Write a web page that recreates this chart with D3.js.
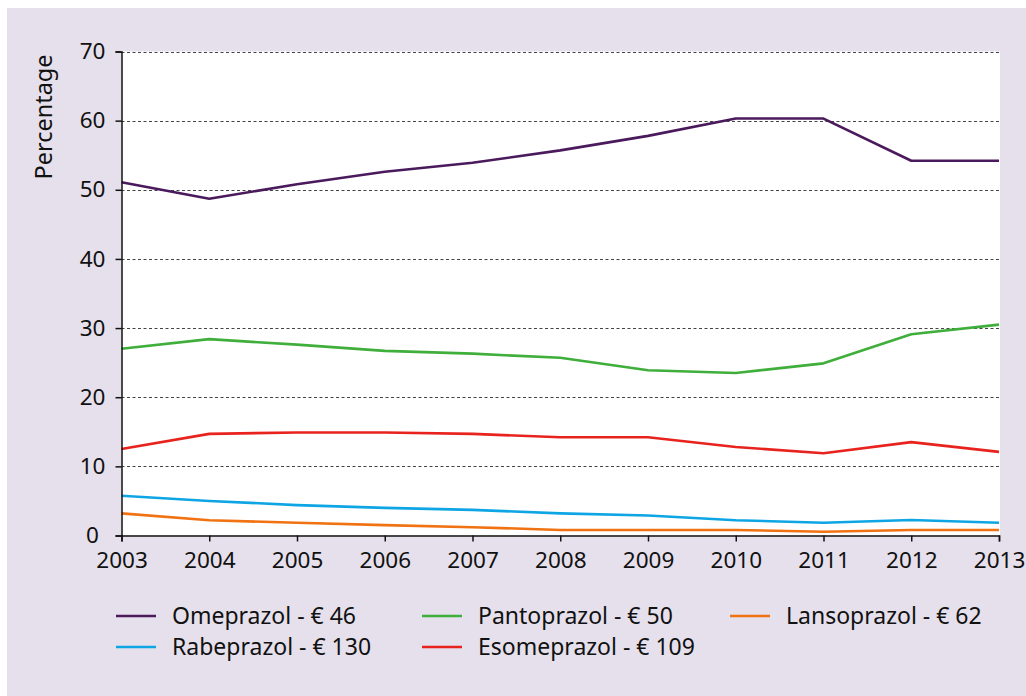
<!DOCTYPE html>
<html>
<head>
<meta charset="utf-8">
<script src="https://cdn.jsdelivr.net/npm/d3@7/dist/d3.min.js"></script>
<style>
  html, body { margin: 0; padding: 0; background: #ffffff; }
  svg { display: block; }
  text { font-family: "Noto Sans", "Open Sans", sans-serif; fill: #111; }
</style>
</head>
<body>
<svg id="chart" width="1026" height="696"></svg>
<script>
const years = [2003, 2004, 2005, 2006, 2007, 2008, 2009, 2010, 2011, 2012, 2013];
const yTicks = [0, 10, 20, 30, 40, 50, 60, 70];
const seriesNames = ["Omeprazol - € 46", "Pantoprazol - € 50", "Lansoprazol - € 62", "Rabeprazol - € 130", "Esomeprazol - € 109"];
const seriesColors = ["#4a1a5c", "#3fae3a", "#f07212", "#0ea5e4", "#e8231e"];
const omeprazol   = [51.1, 48.7, 50.8, 52.6, 53.9, 55.7, 57.8, 60.3, 60.3, 54.2, 54.2];
const pantoprazol = [27.0, 28.4, 27.6, 26.7, 26.3, 25.7, 23.9, 23.5, 24.9, 29.1, 30.5];
const lansoprazol = [3.2, 2.2, 1.85, 1.5, 1.2, 0.8, 0.8, 0.8, 0.55, 0.8, 0.8];
const rabeprazol  = [5.75, 5.0, 4.4, 4.0, 3.7, 3.2, 2.9, 2.2, 1.85, 2.25, 1.85];
const esomeprazol = [12.5, 14.7, 14.9, 14.9, 14.7, 14.2, 14.2, 12.8, 11.9, 13.5, 12.1];
const seriesValues = [omeprazol, pantoprazol, lansoprazol, rabeprazol, esomeprazol];

(function () {
const svg = d3.select("#chart");
// background panel
svg.append("rect").attr("x", 7).attr("y", 8).attr("width", 1019).attr("height", 688).attr("fill", "#e6e0ec");

const pLeft = 121.5, pRight = 999, pTop = 51.5, pBottom = 535.5;
const x = d3.scaleLinear().domain([2003, 2013]).range([pLeft, pRight]);
const y = d3.scaleLinear().domain([0, 70]).range([pBottom, pTop]);

// plot area
svg.append("rect").attr("x", pLeft).attr("y", pTop).attr("width", 1000 - pLeft).attr("height", pBottom - pTop).attr("fill", "#ffffff");

// gridlines
svg.append("g").selectAll("line").data(yTicks.filter(d => d > 0)).join("line")
  .attr("x1", pLeft).attr("x2", 1000)
  .attr("y1", d => Math.round(y(d)) + 0.5).attr("y2", d => Math.round(y(d)) + 0.5)
  .attr("stroke", "#444").attr("stroke-width", 1.2).attr("stroke-dasharray", "3,2.5");

// series lines
const line = d3.line().x((d, i) => x(years[i])).y(d => y(d));
seriesValues.forEach((vals, k) => {
  svg.append("path").datum(vals).attr("d", line)
    .attr("fill", "none").attr("stroke", seriesColors[k]).attr("stroke-width", 2.6)
    .attr("stroke-linejoin", "round");
});

// axes
const yAxis = d3.axisLeft(y).tickValues(yTicks).tickSize(6).tickPadding(10).tickFormat(d3.format("d"));
const gy = svg.append("g").attr("transform", `translate(${pLeft},0)`).call(yAxis);
gy.select(".domain").attr("stroke", "#111").attr("stroke-width", 1.5);
gy.selectAll(".tick line").attr("stroke", "#111").attr("stroke-width", 1.5);
gy.selectAll(".tick text").style("font-size", "22.5px").style("font-family", "'Noto Sans', sans-serif")
  .attr("fill", "#111").attr("text-anchor", "middle").attr("x", -29);

const xAxis = d3.axisBottom(x).tickValues(years).tickSize(6).tickPadding(11).tickFormat(d3.format("d"));
const gx = svg.append("g").attr("transform", `translate(0,${pBottom})`).call(xAxis);
gx.select(".domain").attr("stroke", "#111").attr("stroke-width", 1.5);
gx.selectAll(".tick line").attr("stroke", "#111").attr("stroke-width", 1.5);
gx.selectAll(".tick text").style("font-size", "22.5px").style("font-family", "'Noto Sans', sans-serif").attr("fill", "#111");

// y label
svg.append("text").attr("transform", "translate(52,117) rotate(-90)")
  .attr("text-anchor", "middle").style("font-size", "23.5px").text("Percentage");

// legend
const legendPos = [[116, 616], [422, 616], [730, 616], [116, 647], [422, 647]];
const lg = svg.append("g");
seriesNames.forEach((name, k) => {
  const [lx, ly] = legendPos[k];
  lg.append("line").attr("x1", lx).attr("x2", lx + 40).attr("y1", ly).attr("y2", ly)
    .attr("stroke", seriesColors[k]).attr("stroke-width", 2.6);
  lg.append("text").attr("x", lx + 56).attr("y", ly).attr("dy", "0.35em")
    .style("font-size", "23px").text(name);
});
})();
</script>
</body>
</html>
